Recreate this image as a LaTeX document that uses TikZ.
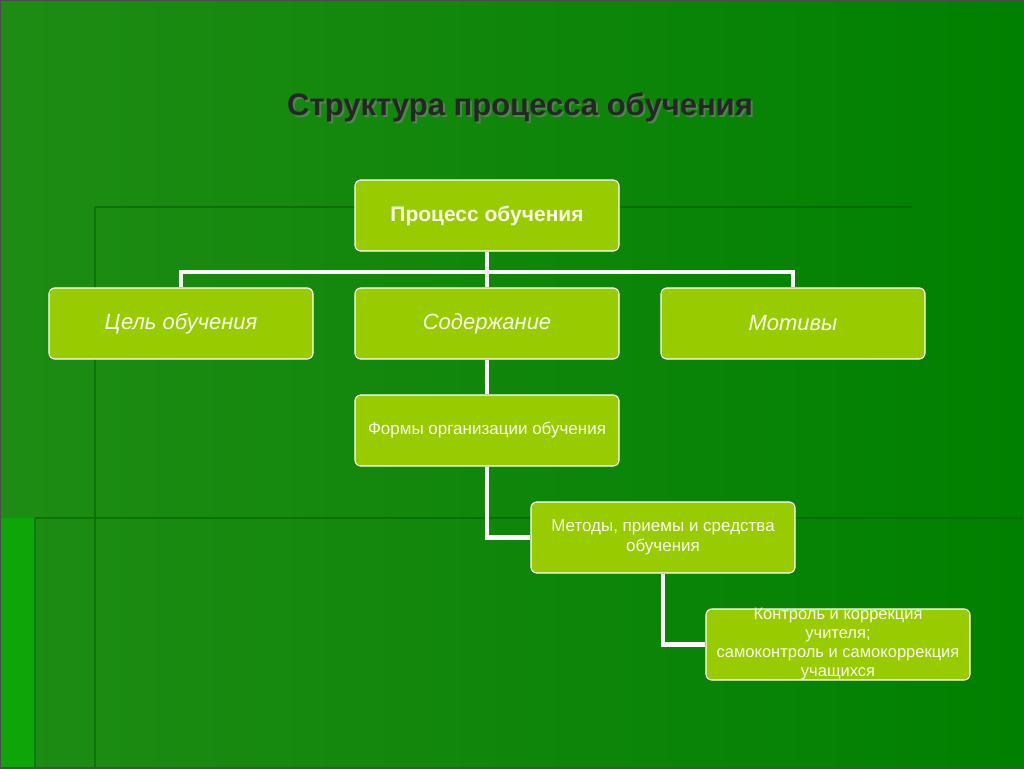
\documentclass[tikz,border=0pt]{standalone}
\usepackage{fontspec}
\setmainfont{Liberation Sans}
\definecolor{bgA}{RGB}{30,140,20}
\definecolor{bgB}{RGB}{0,128,0}
\definecolor{boxc}{RGB}{153,204,0}
\definecolor{txt}{RGB}{250,255,235}
\begin{document}
\begin{tikzpicture}[x=1pt,y=-1pt,
  box/.style={draw=white,line width=1.2pt,fill=boxc,rounded corners=6pt,minimum width=264pt,minimum height=71pt,inner sep=2pt,text=txt,align=center},
  link/.style={draw=white,line width=4.5pt}]
\useasboundingbox (0,0) rectangle (1024,768);
\shade[left color=bgA,right color=bgB] (0,0) rectangle (1024,768);
\fill[green!75!black,opacity=0.5] (0,518) rectangle (35,768);
\draw[black!40!green!60!black,line width=2pt,opacity=0.5] (95,207)--(912,207) (95,207)--(95,768) (35,518)--(1024,518) (35,518)--(35,768);
\draw[black!70,line width=2pt] (0,0) rectangle (1024,768);
\node[font=\bfseries\fontsize{31}{36}\selectfont,text=black!50,opacity=0.6] at (522,109) {Структура процесса обучения};
\node[font=\bfseries\fontsize{31}{36}\selectfont,text=black!85] (title) at (520,107) {Структура процесса обучения};
\node[box,font=\bfseries\fontsize{21}{25}\selectfont] (p) at (487,215.5) {Процесс обучения};
\node[box,font=\itshape\fontsize{22}{26}\selectfont] (c) at (181,323.5) {Цель обучения};
\node[box,font=\itshape\fontsize{22}{26}\selectfont] (s) at (487,323.5) {Содержание};
\node[box,font=\fontsize{17}{20}\selectfont] (f) at (487,430.5) {Формы организации обучения};
\node[box,font=\itshape\fontsize{22}{26}\selectfont] (m) at (793,323.5) {Мотивы};
\node[box,font=\fontsize{17}{20}\selectfont] (me) at (663,537.5) {Методы, приемы и средства\\обучения};
\node[box,minimum height=71pt,text height=0pt,text depth=0pt] (k) at (838,644.5) {};
\node[font=\fontsize{16.5}{19}\selectfont,text=txt,align=center,inner sep=0pt] (kt) at (k.center) {Контроль и коррекция\\учителя;\\самоконтроль и самокоррекция\\учащихся};
\draw[link] (p.south) -- ++(0,21);
\draw[link,line cap=rect] (181,272) -- (793,272);
\draw[link] (181,272) -- (c.north);
\draw[link] (487,272) -- (s.north);
\draw[link] (793,272) -- (m.north);
\draw[link] (s.south) -- (f.north);
\draw[link] (f.south) |- (me.west);
\draw[link] (me.south) |- (k.west);
\end{tikzpicture}
\end{document}
